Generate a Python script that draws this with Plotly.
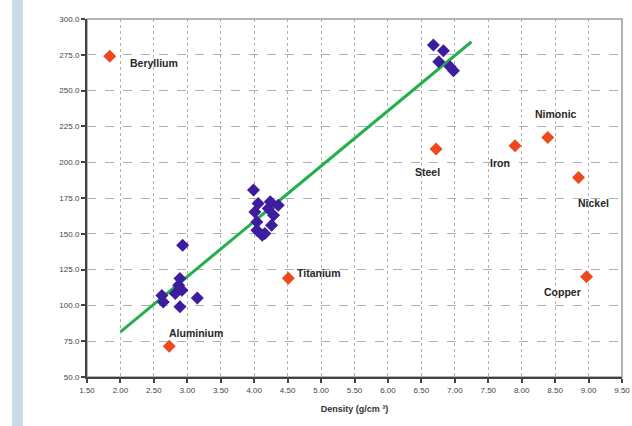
import plotly.graph_objects as go

# Other metals (red)
metal_names = ["Beryllium", "Aluminium", "Titanium", "Steel", "Iron", "Nimonic", "Nickel", "Copper"]
metal_density = [1.84, 2.73, 4.51, 6.72, 7.90, 8.39, 8.85, 8.97]
metal_value = [274.0, 71.5, 119.0, 209.2, 211.5, 217.3, 189.4, 120.0]

# Composite / cluster points (blue)
cluster_density = [2.62, 2.64, 2.82, 2.87, 2.89, 2.92, 2.89, 2.93, 3.15,
                   3.99, 4.06, 4.01, 4.04, 4.04, 4.12, 4.24, 4.36, 4.29, 4.26, 4.16, 4.21,
                   6.68, 6.83, 6.76, 6.93, 6.98]
cluster_value = [107.0, 102.4, 108.3, 114.0, 118.8, 110.6, 99.0, 142.0, 105.2,
                 180.5, 171.2, 165.3, 158.3, 152.5, 149.0, 172.3, 170.0, 163.0, 156.0, 150.2, 167.7,
                 281.8, 277.8, 270.2, 266.7, 263.9]

# Trend line endpoints
trend_density = [2.0, 7.25]
trend_value = [81.5, 284.1]

x_ticks = [1.5 + 0.5 * i for i in range(17)]
y_ticks = [50 + 25 * i for i in range(11)]

# label placement (pixel offsets)
label_style = {
    "Beryllium": dict(xanchor="left", xshift=18, yshift=-7),
    "Aluminium": dict(xanchor="left", xshift=-2, yshift=13),
    "Titanium": dict(xanchor="left", xshift=7, yshift=5),
    "Steel": dict(xanchor="center", xshift=-9, yshift=-23),
    "Iron": dict(xanchor="center", xshift=-15, yshift=-17),
    "Nimonic": dict(xanchor="center", xshift=8, yshift=23),
    "Nickel": dict(xanchor="center", xshift=15, yshift=-26),
    "Copper": dict(xanchor="center", xshift=-24, yshift=-15),
}

fig = go.Figure()
fig.add_trace(go.Scatter(x=trend_density, y=trend_value, mode="lines",
                         line=dict(color="#23b04a", width=3), hoverinfo="skip"))
fig.add_trace(go.Scatter(x=cluster_density, y=cluster_value, mode="markers",
                         marker=dict(symbol="diamond", size=10, color="#3d1c9e")))
fig.add_trace(go.Scatter(x=metal_density, y=metal_value, mode="markers",
                         marker=dict(symbol="diamond", size=10, color="#ec4a1c")))

for n, xv, yv in zip(metal_names, metal_density, metal_value):
    st = label_style[n]
    fig.add_annotation(x=xv, y=yv, xref="x", yref="y", text=f"<b>{n}</b>", showarrow=False,
                       font=dict(family="Liberation Sans, Arial", size=10.5, color="#262626"),
                       yanchor="middle", **st)

# decorative left band
fig.add_shape(type="rect", xref="paper", yref="paper", x0=-0.140, x1=-0.1196, y0=-0.2, y1=1.2,
              fillcolor="#c9dbe6", line=dict(width=0), layer="below")
# plot frame
fig.add_shape(type="rect", xref="paper", yref="paper", x0=0, x1=1, y0=0, y1=1,
              line=dict(color="#9a9a9a", width=1.5), fillcolor="rgba(0,0,0,0)", layer="below")

fig.update_layout(
    width=632, height=426,
    margin=dict(l=87, r=10, t=19, b=49),
    paper_bgcolor="white", plot_bgcolor="white",
    showlegend=False,
    font=dict(family="Liberation Sans, Arial", size=8, color="#444444"),
)
fig.update_xaxes(range=[1.5, 9.5], tickvals=x_ticks, ticktext=[f"{v:.2f}" for v in x_ticks],
                 automargin=False,
                 showgrid=True, gridcolor="#b0b0b0", griddash="dot", gridwidth=1,
                 showline=True, linecolor="#444444", linewidth=2,
                 ticks="outside", ticklen=4, tickcolor="#444444", tickwidth=2,
                 zeroline=False,
                 title=dict(text="<b>Density (g/cm ³)</b>", font=dict(size=9, color="#333333"), standoff=12),
                 tickfont=dict(size=8, color="#444444"))
fig.update_yaxes(range=[50, 300], tickvals=y_ticks, ticktext=[f"{v:.1f}" for v in y_ticks],
                 automargin=False,
                 showgrid=True, gridcolor="#b0b0b0", griddash="dash", gridwidth=1,
                 showline=True, linecolor="#444444", linewidth=2,
                 ticks="outside", ticklen=4, tickcolor="#444444", tickwidth=2,
                 zeroline=False, tickfont=dict(size=8, color="#444444"))

fig.write_html("out.html", config={"displayModeBar": False},
               post_script="document.body.style.margin='0';")
